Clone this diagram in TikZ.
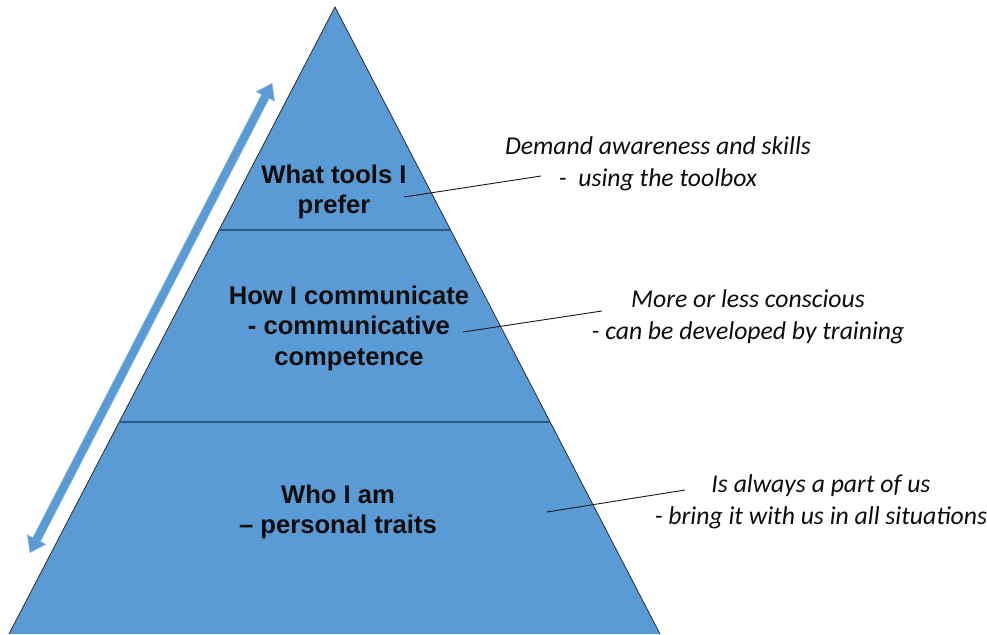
\documentclass[tikz,border=0pt]{standalone}
\usepackage{fontspec}
\setmainfont{Liberation Sans}
\newfontfamily\calib{Carlito}
\usetikzlibrary{shapes.arrows}
\definecolor{pyr}{HTML}{5B9BD5}
\definecolor{divl}{HTML}{2A5784}
\definecolor{edgec}{HTML}{2B2B2B}
\definecolor{txtc}{HTML}{0D0D0D}
\begin{document}
\begin{tikzpicture}[x=1pt,y=-1pt,
  boldtxt/.style={align=center,text=txtc,font=\fontsize{25.6}{30.5}\selectfont\bfseries,inner sep=0pt},
  ittxt/.style={align=center,text=txtc,font=\calib\fontsize{25.7}{31.5}\selectfont\itshape,inner sep=0pt},
  leader/.style={draw=black!90,line width=0.9pt},
  divider/.style={draw=divl,line width=1.4pt},
  sideedge/.style={draw=edgec,line width=0.8pt},
  dblarrow/.style={double arrow,fill=pyr,draw=pyr!75!white,line width=0.6pt,
    inner xsep=0pt,inner ysep=3.9pt,double arrow head extend=6pt,
    double arrow tip angle=70,minimum height=528pt}]
\useasboundingbox (0,0) rectangle (987,634);
\fill[white] (0,0) rectangle (987,634);
% pyramid
\coordinate (apex) at (335,7);
\coordinate (bl) at (9,634);
\coordinate (br) at (660,634);
\coordinate (l1) at (219.1,230);
\coordinate (r1) at (450.6,230);
\coordinate (l2) at (119.2,422);
\coordinate (r2) at (550.1,422);
\fill[pyr] (apex) -- (bl) -- (br) -- cycle;
\draw[sideedge] (bl) -- (apex) -- (br);
\draw[divider] (l1) -- (r1);
\draw[divider] (l2) -- (r2);
% double arrow
\node[dblarrow,rotate=62.7] (arr) at (151,318) {};
% level texts
\node[boldtxt] (t1) at (334,192) {What tools I\\prefer};
\node[boldtxt] (t2) at (349,328) {How I communicate\\- communicative\\competence};
\node[boldtxt] (t3) at (338,512) {Who I am\\– personal traits};
% side notes
\node[ittxt] (n1) at (658,164) {Demand awareness and skills\\-\ \ using the toolbox};
\node[ittxt] (n2) at (748,317) {More or less conscious\\- can be developed by training};
\node[ittxt] (n3) at (821,502) {Is always a part of us\\- bring it with us in all situations};
% leader lines
\coordinate (a1) at (404,197);
\coordinate (b1) at (541,176);
\coordinate (a2) at (463,332);
\coordinate (b2) at (602,311);
\coordinate (a3) at (547,512);
\coordinate (b3) at (685,490);
\draw[leader] (a1) -- (b1);
\draw[leader] (a2) -- (b2);
\draw[leader] (a3) -- (b3);
\end{tikzpicture}
\end{document}
